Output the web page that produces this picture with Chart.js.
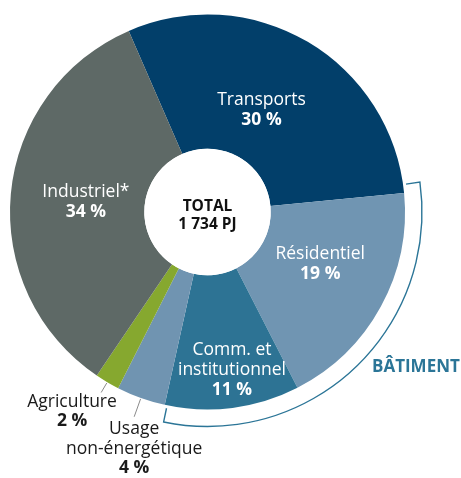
<!DOCTYPE html>
<html>
<head>
<meta charset="utf-8">
<script src="https://cdn.jsdelivr.net/npm/chart.js@4/dist/chart.umd.min.js"></script>
<style>
  html, body { margin: 0; padding: 0; background: #fff; }
  #wrap { width: 461px; height: 478px; position: relative; }
</style>
</head>
<body>
<div id="wrap"><canvas id="consommation"></canvas></div>
<script>
// Consommation d'énergie par secteur
var secteurs = ['Transports', 'Résidentiel', 'Comm. et institutionnel', 'Usage non-énergétique', 'Agriculture', 'Industriel*'];
var parts = [30, 19, 11, 4, 2, 34];
var couleurs = ['#023f6a', '#7095b2', '#2d7394', '#7094b1', '#86a82f', '#5e6966'];

// texte de chaque étiquette (lignes)
var etiquettes = [
    ['Transports'],
    ['Résidentiel'],
    ['Comm. et', 'institutionnel'],
    ['Usage', 'non-énergétique'],
    ['Agriculture'],
    ['Industriel*']
];

// placement des étiquettes : angle (degrés depuis le haut) et distance du centre
var placeAngle = [28, 114.6, 171.2, 197.2, 214.2, 274.7];
var placeRayon = [115, 124, 160, 248, 241, 122];
var dehors = [false, false, false, true, true, false];

var fontName = '"Open Sans", sans-serif';

var etiquettesPlugin = {
    id: 'etiquettes',
    afterDraw: function(chart) {
        var c = chart.ctx;
        var meta = chart.getDatasetMeta(0);
        var cx = meta.data[0].x, cy = meta.data[0].y;
        var R = meta.data[0].outerRadius;
        var rIn = meta.data[0].innerRadius;

        c.save();
        // cercle central
        c.fillStyle = '#ffffff';
        c.beginPath();
        c.arc(cx, cy, rIn, 0, Math.PI * 2);
        c.fill();
        c.fillStyle = '#111111';
        c.textAlign = 'center';
        c.textBaseline = 'middle';
        c.font = 'bold 15.5px ' + fontName;
        c.fillText('TOTAL', cx, cy - 5);
        c.fillText('1 734 PJ', cx, cy + 13);

        // étiquettes des secteurs
        for (var i = 0; i < secteurs.length; i++) {
            var a = placeAngle[i] * Math.PI / 180;
            var x = cx + placeRayon[i] * Math.sin(a);
            var y = cy - placeRayon[i] * Math.cos(a);
            var lignes = etiquettes[i].slice();
            var n = lignes.length + 1;
            var lh = dehors[i] ? 19.5 : 20;
            var y0 = y - (n - 1) * lh / 2;
            c.fillStyle = dehors[i] ? '#1a1a1a' : '#ffffff';
            c.font = '17.5px ' + fontName;
            for (var j = 0; j < lignes.length; j++) {
                c.fillText(lignes[j], x, y0 + j * lh);
            }
            c.font = 'bold 17.5px ' + fontName;
            c.fillText(parts[i] + ' %', x, y0 + lignes.length * lh);

            if (dehors[i]) {
                var el = meta.data[i];
                var mid = (el.startAngle + el.endAngle) / 2;
                var l1 = R + 1, l2 = (i === 3) ? R + 20 : R + 12;
                c.strokeStyle = '#8a8a8a';
                c.lineWidth = 1;
                c.beginPath();
                c.moveTo(cx + l1 * Math.cos(mid), cy + l1 * Math.sin(mid));
                c.lineTo(cx + l2 * Math.cos(mid), cy + l2 * Math.sin(mid));
                c.stroke();
            }
        }

        // accolade BÂTIMENT (Résidentiel + Comm. et institutionnel)
        var aDeb = meta.data[1].startAngle - 2.5 * Math.PI / 180;
        var aFin = meta.data[2].endAngle - 0.7 * Math.PI / 180;
        var rb = R + 17, rt = R + 3;
        c.strokeStyle = '#2b7597';
        c.lineWidth = 1.4;
        c.beginPath();
        c.moveTo(cx + rt * Math.cos(aDeb), cy + rt * Math.sin(aDeb));
        c.lineTo(cx + rb * Math.cos(aDeb), cy + rb * Math.sin(aDeb));
        c.arc(cx, cy, rb, aDeb, aFin);
        c.lineTo(cx + rt * Math.cos(aFin), cy + rt * Math.sin(aFin));
        c.stroke();

        c.fillStyle = '#2b7597';
        c.font = 'bold 17px ' + fontName;
        c.textAlign = 'left';
        c.fillText('BÂTIMENT', 372, 367);
        c.restore();
    }
};

var ctx = document.getElementById('consommation');
var graphique = new Chart(ctx, {
    type: 'doughnut',
    data: {
        labels: secteurs,
        datasets: [{
            data: parts,
            backgroundColor: couleurs,
            borderWidth: 0
        }]
    },
    options: {
        responsive: true,
        maintainAspectRatio: false,
        animation: false,
        rotation: -23.5,
        cutout: '32%',
        layout: {
            padding: { left: 10, right: 56, top: 14, bottom: 68 }
        },
        plugins: {
            legend: { display: false },
            tooltip: { enabled: false }
        }
    },
    plugins: [etiquettesPlugin]
});
</script>
</body>
</html>
